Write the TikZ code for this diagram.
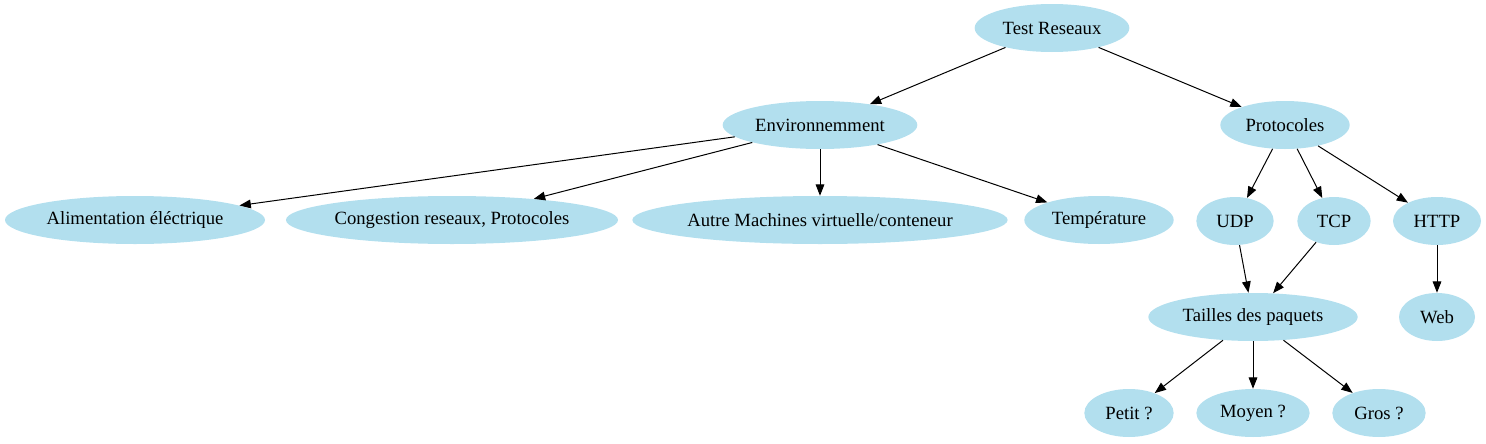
\documentclass[tikz,border=0pt]{standalone}
\usepackage{fontspec}
\setmainfont{Liberation Serif}
\usepackage{tikz}
\usetikzlibrary{arrows.meta,%
                shapes.geometric}
\definecolor{bulle}{HTML}{B2DFEE}

\begin{document}
\begin{tikzpicture}
  [x=0.75pt,y=-0.75pt,
   every node/.style={ellipse,fill=bulle,inner sep=0pt,minimum height=36pt,
                      font=\fontsize{14}{16}\selectfont}]
  \useasboundingbox (0,0) rectangle (1486,443);
  \node[minimum width=116pt] (test) at (1052,28) {Test Reseaux};
  \node[minimum width=146pt] (env) at (820,125) {Environnemment};
  \node[minimum width=97pt] (proto) at (1285,125) {Protocoles};
  \node[minimum width=195pt] (alim) at (135,220) {Alimentation éléctrique};
  \node[minimum width=246pt] (cong) at (452,220) {Congestion reseaux, Protocoles};
  \node[minimum width=274pt] (autre) at (820,220) {Autre Machines virtuelle/conteneur};
  \node[minimum width=112pt] (temp) at (1099,220) {Température};
  \node[minimum width=58pt] (udp) at (1235,221) {UDP};
  \node[minimum width=55pt] (tcp) at (1334,221) {TCP};
  \node[minimum width=66pt] (http) at (1437,221) {HTTP};
  \node[minimum width=157pt] (taille) at (1253,317) {Tailles des paquets};
  \node[minimum width=57pt] (web) at (1437,317) {Web};
  \node[minimum width=67pt] (petit) at (1129,413) {Petit ?};
  \node[minimum width=85pt] (moyen) at (1253,413) {Moyen ?};
  \node[minimum width=70pt] (gros) at (1379,413) {Gros ?};

  \foreach \from/\to in {test/env,test/proto,env/alim,env/cong,env/autre,env/temp,proto/udp,proto/tcp,proto/http,udp/taille,tcp/taille,http/web,taille/petit,taille/moyen,taille/gros}
    \draw[line width=0.75pt,-{Triangle[length=8.5pt,width=6.5pt]}] (\from) -- (\to);

\end{tikzpicture}
\end{document}
